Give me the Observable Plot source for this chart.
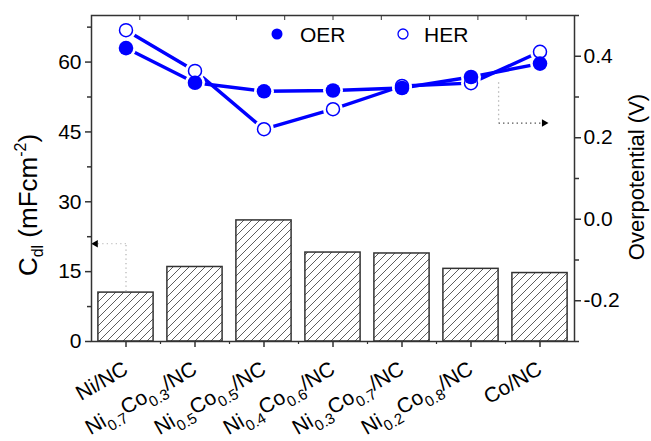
<!DOCTYPE html>
<html><head><meta charset="utf-8">
<script src="https://cdn.jsdelivr.net/npm/d3@7"></script>
<script src="https://cdn.jsdelivr.net/npm/@observablehq/plot@0.6"></script>
<style>
body{margin:0;background:#fff}
svg{font-family:"Liberation Sans",Arial,sans-serif}
</style>
</head><body><div id="chart"></div>
<script>
// ---- data ----
const categories = ["Ni/NC","Ni0.7Co0.3/NC","Ni0.5Co0.5/NC","Ni0.4Co0.6/NC","Ni0.3Co0.7/NC","Ni0.2Co0.8/NC","Co/NC"];
const cdl = [10.5, 16.0, 26.0, 19.1, 18.9, 15.6, 14.7];          // mF cm^-2 (left axis)
const oer = [0.420, 0.335, 0.314, 0.316, 0.322, 0.349, 0.382];   // V (right axis)
const her = [0.464, 0.364, 0.221, 0.270, 0.327, 0.334, 0.411];   // V (right axis)
const leftTicks = [0, 15, 30, 45, 60];
const leftMinor = [7.5, 22.5, 37.5, 52.5, 67.5];
const rightTicks = [-0.2, 0.0, 0.2, 0.4];
const rightMinor = [-0.3, -0.1, 0.1, 0.3, 0.5];
const topTicks = [0.2, 0.9, 1.6, 2.3, 3.0, 3.7, 4.4, 5.1, 5.8];
const leftDomain = [0, 70];
const rightDomain = [-0.3, 0.5];
// annotation arrows (data units)
const leftArrowX = [0, 0, -0.44];
const leftArrowY = [10.8, 21.0, 21.0];     // C_dl units
const rightArrowX = [5.4, 5.4, 6.06];
const rightArrowV = [0.336, 0.236, 0.236]; // V units

// ---- helpers ----
const FONT = "'Liberation Sans', Arial, sans-serif";
const toL = v => (v - rightDomain[0]) / (rightDomain[1] - rightDomain[0]) * (leftDomain[1] - leftDomain[0]) + leftDomain[0];
const fromL = y => (y - leftDomain[0]) / (leftDomain[1] - leftDomain[0]) * (rightDomain[1] - rightDomain[0]) + rightDomain[0];
const idx = categories.map((c, i) => i);
const rows = idx.map(i => ({i, cat: categories[i], cdl: cdl[i], oer: oer[i], her: her[i]}));
const blue = "#0000ff";

const leftLinks = [{x1: leftArrowX[0], y1: leftArrowY[0], x2: leftArrowX[1], y2: leftArrowY[1], c: "#b8b8b8"},
                   {x1: leftArrowX[1], y1: leftArrowY[1], x2: leftArrowX[2], y2: leftArrowY[2], c: "#c8c8c8"}];
const rightLinks = [{x1: rightArrowX[0], y1: toL(rightArrowV[0]), x2: rightArrowX[1], y2: toL(rightArrowV[1]), c: "#b8b8b8"},
                    {x1: rightArrowX[1], y1: toL(rightArrowV[1]), x2: rightArrowX[2], y2: toL(rightArrowV[2]), c: "#444"}];
const heads = [{x: leftArrowX[2], y: leftArrowY[2], rot: -90}, {x: rightArrowX[2], y: toL(rightArrowV[2]), rot: 90}];

const chart = Plot.plot({
  width: 651, height: 441,
  marginLeft: 91, marginRight: 77, marginTop: 15, marginBottom: 100,
  style: {fontFamily: FONT, fontSize: "21px", color: "#000", background: "#fff", overflow: "visible"},
  x: {domain: [-0.5, 6.5], axis: null},
  y: {domain: leftDomain, axis: null},
  marks: [
    Plot.rectY(rows, {x1: d => d.i - 0.4, x2: d => d.i + 0.4, y1: 0, y2: "cdl", fill: "#fff", stroke: "#333", strokeWidth: 1.5}),
    Plot.link([...leftLinks, ...rightLinks], {x1: "x1", y1: "y1", x2: "x2", y2: "y2", stroke: "c", strokeWidth: 1.3, strokeDasharray: "1.3,3.2"}),
    Plot.dot(heads, {x: "x", y: "y", symbol: "triangle2", r: 3.6, fill: "#000", rotate: "rot"}),
    Plot.line(rows, {x: "i", y: d => toL(d.her), stroke: blue, strokeWidth: 3.4}),
    Plot.line(rows, {x: "i", y: d => toL(d.oer), stroke: blue, strokeWidth: 3.4}),
    Plot.dot(rows, {x: "i", y: d => toL(d.her), r: 10, fill: "#fff"}),
    Plot.dot(rows, {x: "i", y: d => toL(d.oer), r: 10, fill: "#fff"}),
    Plot.dot(rows, {x: "i", y: d => toL(d.her), r: 6.5, fill: "#fff", stroke: blue, strokeWidth: 1.5}),
    Plot.dot(rows, {x: "i", y: d => toL(d.oer), r: 7.3, fill: blue}),
    Plot.frame({stroke: "#333", strokeWidth: 1.5}),
    Plot.axisY({ticks: leftTicks, tickSize: 6, tickPadding: 4, fontSize: 21, tickFormat: d => String(d), label: null, stroke: "#333", strokeWidth: 1.5}),
    Plot.axisY({ticks: leftMinor, tickSize: 4, tickFormat: () => "", label: null, stroke: "#333", strokeWidth: 1.5}),
    Plot.axisY({anchor: "right", ticks: rightTicks.map(toL), tickSize: 6, tickPadding: 3, fontSize: 21,
                tickFormat: d => (Math.round(fromL(d) * 10) / 10).toFixed(1), label: null, stroke: "#333", strokeWidth: 1.5}),
    Plot.axisY({anchor: "right", ticks: rightMinor.map(toL), tickSize: 4, tickFormat: () => "", label: null, stroke: "#333", strokeWidth: 1.5}),
    Plot.axisX({anchor: "bottom", ticks: idx, tickSize: 6, tickFormat: () => "", label: null, stroke: "#333", strokeWidth: 1.5}),
    Plot.axisX({anchor: "bottom", ticks: idx.slice(1).map(i => i - 0.5), tickSize: 3, tickFormat: () => "", label: null, stroke: "#333", strokeWidth: 1.2}),
    Plot.axisX({anchor: "top", ticks: topTicks, tickSize: -4, tickFormat: () => "", label: null, stroke: "#333", strokeWidth: 1})
  ]
});
document.getElementById("chart").appendChild(chart);

// ---- post-processing: hatch pattern, rich-text labels, legend ----
const svg = d3.select(chart);
const defs = svg.insert("defs", ":first-child");
const P = 8;
const pat = defs.append("pattern").attr("id", "hatch").attr("patternUnits", "userSpaceOnUse").attr("width", P).attr("height", P);
pat.append("rect").attr("width", P).attr("height", P).attr("fill", "#fff");
pat.append("path").attr("d", `M-1,1 L1,-1 M0,${P} L${P},0 M${P - 1},${P + 1} L${P + 1},${P - 1}`).attr("stroke", "#333").attr("stroke-width", 0.8);
svg.select('g[aria-label="rect"]').selectAll("rect").attr("fill", "url(#hatch)");

const xs = chart.scale("x");
const lab = svg.append("g").attr("fill", "#000").attr("font-size", 21).attr("font-family", FONT).attr("text-anchor", "end");
categories.forEach((c, i) => {
  const t = lab.append("text")
    .attr("transform", `translate(${xs.apply(i) + 4},373) rotate(-30)`)
    .attr("text-anchor", "end");
  const parts = c.split(/(\d\.\d)/);
  let sub = false;
  parts.forEach((p, k) => {
    if (!p) return;
    if (k % 2 === 1) {
      t.append("tspan").attr("font-size", 15).attr("dy", 7).text(p);
      sub = true;
    } else {
      const s = t.append("tspan").text(p);
      if (sub) { s.attr("dy", -7); sub = false; }
    }
  });
});

// left axis title
const yt = svg.append("text").attr("transform", "translate(37,205) rotate(-90)").attr("text-anchor", "middle")
  .attr("font-size", 26).attr("font-family", FONT).attr("fill", "#000");
yt.append("tspan").text("C");
yt.append("tspan").attr("font-size", 16).attr("dy", 6).text("dl");
yt.append("tspan").attr("dy", -6).text(" (mFcm");
yt.append("tspan").attr("font-size", 16).attr("dy", -11).text("-2");
yt.append("tspan").attr("dy", 11).text(")");
// right axis title
svg.append("text").attr("transform", "translate(644,177) rotate(-90)").attr("text-anchor", "middle")
  .attr("font-size", 22).attr("font-family", FONT).attr("fill", "#000").text("Overpotential (V)");

// legend
const lg = svg.append("g").attr("font-size", 21).attr("font-family", FONT).attr("fill", "#000").attr("text-anchor", "start");
lg.append("circle").attr("cx", 277).attr("cy", 34).attr("r", 5.5).attr("fill", blue);
lg.append("text").attr("x", 300).attr("y", 41.5).text("OER");
lg.append("circle").attr("cx", 403).attr("cy", 34).attr("r", 5).attr("fill", "#fff").attr("stroke", blue).attr("stroke-width", 1.3);
lg.append("text").attr("x", 424).attr("y", 41.5).text("HER");
</script>
</body></html>
